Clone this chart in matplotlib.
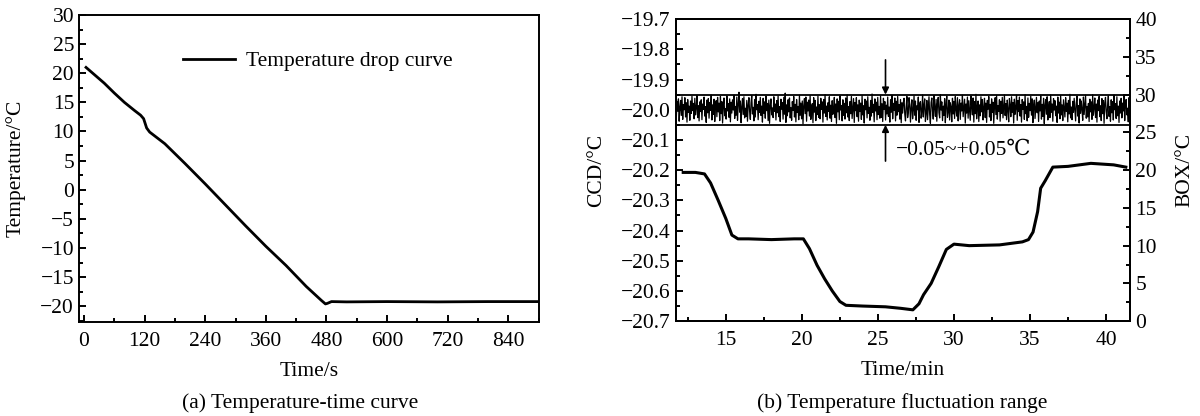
import numpy as np
import matplotlib
matplotlib.use("Agg")
import matplotlib.pyplot as plt
from matplotlib.ticker import MultipleLocator, FuncFormatter

plt.rcParams['font.family'] = ['Liberation Serif', 'DejaVu Serif']
plt.rcParams['font.size'] = 15.5
plt.rcParams['axes.linewidth'] = 1.4

# (a) temperature drop curve
t_drop = [4, 20, 40, 60, 80, 100, 112, 118, 124, 130, 160, 200, 240, 280, 320,
          360, 400, 440, 470, 478, 482, 490, 520, 600, 700, 800, 900]
T_drop = [21.0, 19.8, 18.3, 16.6, 15.0, 13.6, 12.8, 12.2, 10.6, 9.9, 7.9, 4.5,
          1.0, -2.6, -6.2, -9.7, -13.0, -16.6, -19.0, -19.6, -19.5, -19.2,
          -19.25, -19.2, -19.25, -19.2, -19.2]

# (b) CCD fluctuation, thousandths of a degree around the band centre
ccd_dev = [
    12, -30, 25, -8, 33, -41, 5, 28, -22, 40, -35, 14, -3, 37, -27, 20, -44, 31, -12, 9,
    -38, 26, -15, 42, -6, 18, -33, 35, -20, 3, 44, -29, 11, -40, 23, -9, 30, -36, 16, -2,
    39, -24, 7, -45, 29, -13, 34, -31, 21, -5, 46, -37, 13, -18, 32, -42, 4, 27, -26, 38,
    -10, 19, -39, 41, -16, 24, -47, 10, 36, -23, 1, -34, 43, -7, 17, -28, 33, -43, 22, -14,
    30, -4, 45, -32, 8, -21, 39, -38, 15, 55, -11, 26, -46, 6, 34, -19, 40, -30, 2, -25,
    28, -41, 12, 37, -9, -35, 20, 44, -17, 5, -40, 31, -27, 48, -3, 14, -36, 25, -12, 38,
    -22, 9, -44, 35, -15, 23, -31, 42, -6, 18, -39, 29, -48, 11, 33, -20, 3, -29, 40, -8,
    16, -37, 27, -13, 43, -26, 7, -42, 32, -1, 21, -34, 38, -18, 52, -45, 13, -23, 30, -10,
    36, -30, 4, -38, 24, -5, 41, -27, 15, -43, 31, -12, 8, -36, 45, -21, 19, -33, 26, -50,
    10, 34, -16, 39, -41, 22, -7, 29, -24, 44, -35, 1, 17, -46, 37, -11, 28, -39, 6, -19,
    42, -28, 14, -33, 35, -2, 23, -44, 31, -14, 47, -25, 9, -37, 20, -8, 40, -31, 12, -42,
    27, -18, 3, 38, -29, 16, -48, 33, -10, 25, -36, 43, -4, 11, -40, 30, -22, 18, -34, 36,
    -13, 46, -27, 7, -39, 24, -16, 41, -32, 2, 34, -45, 21, -6, 37, -26, 13, -41, 29, -9,
    19, -35, 44, -20, 10, -47, 32, -3, 26, -30, 40, -15, 5, -38, 28, -24, 49, -12, 15, -43,
    33, -7, 22, -36, 38, -19, 8, -31, 43, -28, 17, -42, 35, -1, 24, -37, 12, -17, 39, -25,
    6, -44, 30, -11, 45, -33, 18, -5, 36, -40, 25, -21, 41, -9, 14, -34, 31, -46, 20, -14,
    22, 35, -18, -40, 8, 41, -29, -12, 37, 15, -44, 3, 30, -33, -6, 43, -21, 26, -38, 10,
    -3, 39, -45, 18, 24, -31, -9, 46, -27, 12, 33, -42, -15, 28, -36, 5, 40, -19, -48, 21,
    36, -8, -34, 44, 2, -25, 31, -41, 17, 38, -13, -30, 47, -4, 23, -39, 9, -22, 34, -46,
    14, 42, -28, -11, 29, -37, 20, 6, -43, 35, -17, 25, -32, 41, -2, -24, 37, -40, 11, 30,
    -35, 19, -7, 45, -26, 1, 32, -47, 16, -14, 39, -31, 27, -5, -38, 43, 7, -20, 36, -44,
    24, -16, 48, -33, 9, 26, -42, 13, -23, 40, -10, 31, -37, 4, 35, -29, 19, -45, 28, -1,
    41, -27, 15, -39, 33, -12, 22, -48, 6, 37, -19, 44, -34, 11, -8, 30, -41, 25, -15, 38,
    -30, 7, 46, -22, 17, -36, 29, -3, -43, 34, 12, -26, 40, -11, 21, -47, 32, -18, 3, 45,
    -38, 27, -9, 39, -24, 14, -44, 31, -2, 23, -35, 47, -16, 8, -40, 36, -28, 18, -6, 42,
    -21, 33, -46, 10, 29, -32, 4, 38, -13, 20, -42, 26, -7, 43, -34, 15, -25, 35, -49, 12,
    31, -18, 40, -37, 5, 24, -29, 46, -11, 16, -41, 34, -4, 27, -23, 9, -45, 39, -14, 22,
    -33, 44, -20, 13, -39, 30, 1, -27, 37, -8, 19, -43, 28, -17, 48, -30, 6, -36, 25, -12,
    35, -5, -40, 21, 42, -24, 11, -47, 33, -15, 26, -2, -38, 39, -19, 14, 45, -31, 8, -27,
    18, -42, 32, -10, 23, -35, 47, -21, 3, 36, -29, 16, -44, 29, -6, 41, -26, 10, -39, 34,
    -16, 27, -48, 20, 38, -9, -33, 13, 43, -25, 7, -41, 30, -13, 24, -37, 46, -3, 17, -32,
    40, -23, 9, -45, 26, -14, 35, -30, 19, -7, 44, -39, 12, 31, -20, 2, -43, 37, -11, 28,
]
ccd_centre = -19.997
ccd_t_start, ccd_t_end = 11.7, 41.6
band = [-20.05, -19.95]

# (b) BOX temperature
t_box = [12.2, 13.0, 13.6, 14.0, 14.5, 15.0, 15.4, 15.8, 16.5, 18.0, 19.5, 20.1,
         20.5, 21.0, 21.5, 22.0, 22.5, 22.9, 24.0, 25.5, 26.5, 27.3, 27.7, 28.0,
         28.5, 29.0, 29.5, 30.0, 31.0, 33.0, 34.5, 34.9, 35.2, 35.5, 35.7, 36.0,
         36.5, 37.5, 39.0, 40.5, 41.3]
box = [19.7, 19.7, 19.5, 18.3, 16.0, 13.6, 11.4, 10.9, 10.9, 10.8, 10.9, 10.9,
       9.6, 7.4, 5.6, 4.0, 2.6, 2.1, 2.0, 1.9, 1.7, 1.5, 2.3, 3.5,
       5.0, 7.2, 9.5, 10.2, 10.0, 10.1, 10.5, 10.8, 11.8, 14.5, 17.6, 18.6,
       20.4, 20.5, 20.9, 20.7, 20.4]

fig = plt.figure(figsize=(12, 4.16), dpi=100)


def style_ticks(ax, **kw):
    ax.tick_params(which='both', direction='in', width=1.4, **kw)
    ax.tick_params(which='major', length=5)
    ax.tick_params(which='minor', length=3)


# ---- (a)
ax1 = fig.add_axes([0.0658, 0.226, 0.383, 0.738])
ax1.plot(t_drop, T_drop, color='black', lw=2, label='Temperature drop curve')
ax1.set_xlim(-10, 900)
ax1.set_ylim(-22.7, 30)
ax1.xaxis.set_major_locator(MultipleLocator(120))
ax1.xaxis.set_minor_locator(MultipleLocator(60))
ax1.yaxis.set_major_locator(MultipleLocator(5))
ax1.yaxis.set_minor_locator(MultipleLocator(2.5))
style_ticks(ax1, top=False, right=False)
ax1.tick_params(axis='x', pad=7)
ax1.set_xlabel('Time/s', labelpad=8)
ax1.set_ylabel('Temperature/°C')
ax1.yaxis.set_label_coords(-0.115, 0.5)
ax1.legend(loc='center', bbox_to_anchor=(0.52, 0.85), frameon=False,
           handlelength=2.4, handletextpad=0.5)

# ---- (b)
ax2 = fig.add_axes([0.563, 0.228, 0.379, 0.726])
ccd_t = np.linspace(ccd_t_start, ccd_t_end, len(ccd_dev))
ccd = ccd_centre + np.array(ccd_dev) / 1000.0
ax2.plot(ccd_t, ccd, color='black', lw=0.9)
for b in band:
    ax2.axhline(b, color='black', lw=1.3)
ax2.set_xlim(ccd_t_start, ccd_t_end)
ax2.set_ylim(-20.7, -19.7)
ax2.xaxis.set_major_locator(MultipleLocator(5))
ax2.xaxis.set_minor_locator(MultipleLocator(2.5))
ax2.yaxis.set_major_locator(MultipleLocator(0.1))
ax2.yaxis.set_minor_locator(MultipleLocator(0.05))
ax2.yaxis.set_major_formatter(FuncFormatter(lambda v, p: f'{v:.1f}'.replace('-', '\u2212')))
style_ticks(ax2, top=False, right=False)
ax2.tick_params(axis='x', pad=7)
ax2.set_xlabel('Time/min', labelpad=8)
ax2.set_ylabel('CCD/°C')
ax2.yaxis.set_label_coords(-0.153, 0.5)

ax2.annotate('', xy=(25.5, band[1]), xytext=(25.5, -19.835),
             arrowprops=dict(arrowstyle='-|>', color='black', lw=1.2,
                             mutation_scale=10, shrinkA=0, shrinkB=0))
ax2.annotate('', xy=(25.5, band[0]), xytext=(25.5, -20.17),
             arrowprops=dict(arrowstyle='-|>', color='black', lw=1.2,
                             mutation_scale=10, shrinkA=0, shrinkB=0))
ax2.text(26.2, -20.135, '−0.05~+0.05℃', ha='left', va='center')

ax3 = ax2.twinx()
ax3.plot(t_box, box, color='black', lw=2.2)
ax3.set_ylim(0, 40)
ax3.yaxis.set_major_locator(MultipleLocator(5))
ax3.yaxis.set_minor_locator(MultipleLocator(2.5))
style_ticks(ax3)
ax3.set_ylabel('BOX/°C')
ax3.yaxis.set_label_coords(1.10, 0.5)

fig.text(0.25, 0.031, '(a) Temperature-time curve', ha='center', va='center')
fig.text(0.752, 0.031, '(b) Temperature fluctuation range', ha='center', va='center')

fig.savefig('out.png', dpi=100)
